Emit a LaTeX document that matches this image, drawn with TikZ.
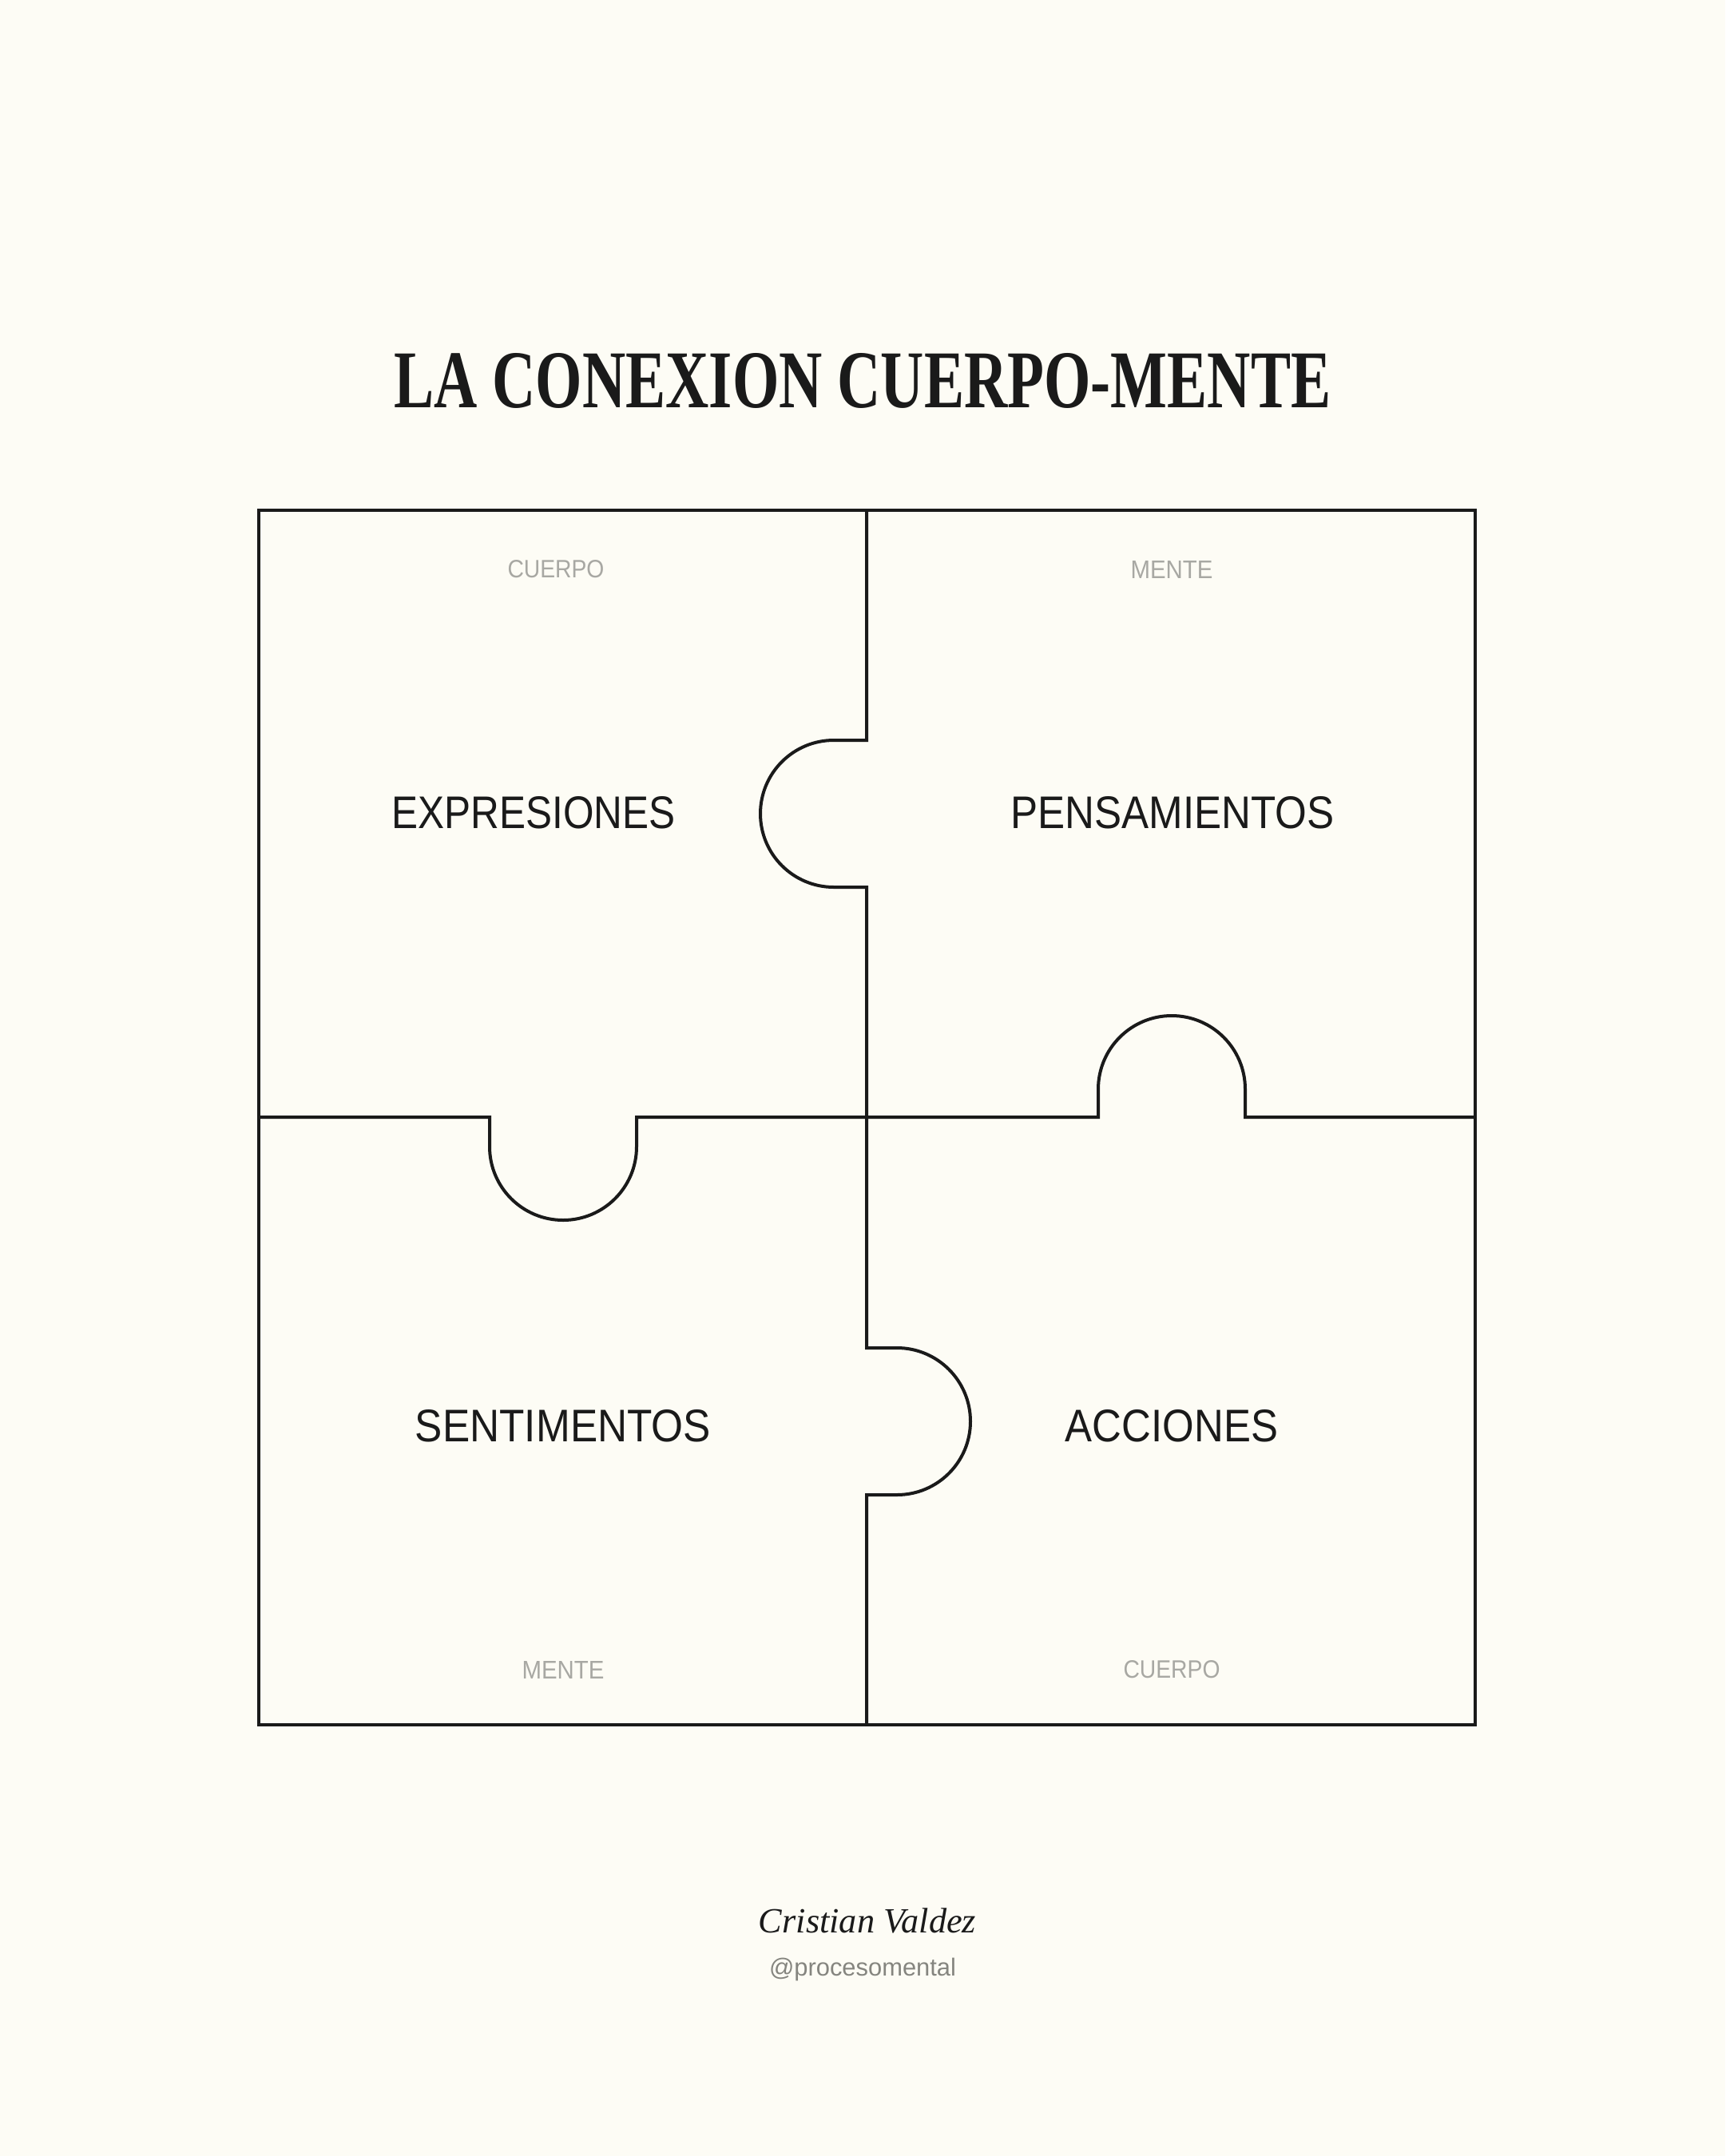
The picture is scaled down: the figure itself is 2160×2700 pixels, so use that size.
\documentclass[tikz,border=0pt]{standalone}
\usepackage{fontspec}
\usepackage{graphicx}
\setmainfont{Liberation Serif}
\setsansfont{Liberation Sans}
\definecolor{bg}{HTML}{FDFCF5}
\definecolor{ink}{HTML}{1A1A1A}
\definecolor{softgray}{HTML}{A8A8A3}
\definecolor{handle}{HTML}{85857F}
\newcommand{\fitbox}[3]{\resizebox{#1pt}{#2pt}{#3}}
\begin{document}
\begin{tikzpicture}[x=1pt,y=-1pt,
  puzzle/.style={draw=ink,line width=4pt,line join=miter},
  label/.style={inner sep=0pt,anchor=center,text=ink,font=\sffamily},
  tag/.style={inner sep=0pt,anchor=center,text=softgray,font=\sffamily}]
\fill[bg] (0,0) rectangle (2160,2700);
\useasboundingbox (0,0) rectangle (2160,2700);
% title
\node[inner sep=0pt,text=ink] (title) at (1080,477) {\fitbox{1172}{68}{\bfseries LA CONEXION CUERPO-MENTE}};
% outer frame
\draw[puzzle] (324,639) rectangle (1847,2160);
% vertical divider with tabs
\draw[puzzle] (1085,639) -- (1085,927) -- (1044,927)
  arc[start angle=-90,end angle=-270,radius=92]
  -- (1085,1111) -- (1085,1688) -- (1123,1688)
  arc[start angle=-90,end angle=90,radius=92]
  -- (1085,1872) -- (1085,2160);
% horizontal divider with tabs
\draw[puzzle] (324,1399) -- (613,1399) -- (613,1436)
  arc[start angle=180,end angle=0,radius=92]
  -- (797,1399) -- (1375,1399) -- (1375,1364)
  arc[start angle=180,end angle=360,radius=92]
  -- (1559,1399) -- (1847,1399);
% small tags
\node[tag] (t1) at (696,713) {\fitbox{121}{22}{CUERPO}};
\node[tag] (t2) at (1467,713) {\fitbox{103}{22}{MENTE}};
\node[tag] (t3) at (705,2091) {\fitbox{103}{22}{MENTE}};
\node[tag] (t4) at (1467,2091) {\fitbox{121}{22}{CUERPO}};
% main labels
\node[label] (l1) at (668,1018) {\fitbox{355}{40}{EXPRESIONES}};
\node[label] (l2) at (1468,1018) {\fitbox{405}{40}{PENSAMIENTOS}};
\node[label] (l3) at (705,1786) {\fitbox{370}{40}{SENTIMENTOS}};
\node[label] (l4) at (1467,1786) {\fitbox{266}{40}{ACCIONES}};
% footer
\node[inner sep=0pt,text=ink] (sig) at (1086,2405) {\resizebox{272pt}{!}{\itshape Cristian Valdez}};
\node[inner sep=0pt,text=handle,font=\sffamily] (handle) at (1080,2466) {\resizebox{234pt}{!}{@procesomental}};
\end{tikzpicture}
\end{document}
